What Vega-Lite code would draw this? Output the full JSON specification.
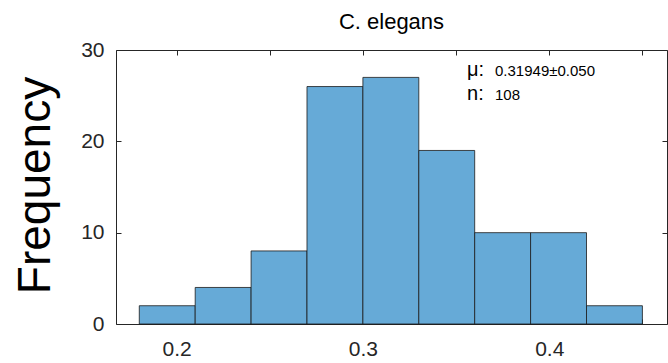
{
  "$schema": "https://vega.github.io/schema/vega-lite/v6.json",
  "width": 551,
  "height": 274,
  "autosize": "none",
  "padding": {"left": 116, "top": 50, "right": 1, "bottom": 39},
  "background": "white",
  "config": {
    "view": {"stroke": "#262626", "strokeWidth": 1},
    "font": "Liberation Sans"
  },
  "title": {
    "text": "C. elegans",
    "fontSize": 22,
    "fontWeight": "normal",
    "color": "#000000",
    "font": "Liberation Sans",
    "offset": 5
  },
  "data": {
    "values": [
      {"start": 0.18, "end": 0.21, "count": 2},
      {"start": 0.21, "end": 0.24, "count": 4},
      {"start": 0.24, "end": 0.27, "count": 8},
      {"start": 0.27, "end": 0.30, "count": 26},
      {"start": 0.30, "end": 0.33, "count": 27},
      {"start": 0.33, "end": 0.36, "count": 19},
      {"start": 0.36, "end": 0.39, "count": 10},
      {"start": 0.39, "end": 0.42, "count": 10},
      {"start": 0.42, "end": 0.45, "count": 2}
    ]
  },
  "layer": [
    {
      "mark": {"type": "bar", "fill": "#66aad7", "stroke": "#1a1a1a", "strokeWidth": 0.8, "opacity": 1},
      "encoding": {
        "x": {
          "field": "start", "type": "quantitative",
          "scale": {"domain": [0.1675, 0.4632], "nice": false, "zero": false},
          "axis": {
            "orient": "bottom", "title": null, "values": [0.2, 0.25, 0.3, 0.35, 0.4, 0.45],
            "labelExpr": "abs(datum.value*10 - round(datum.value*10)) < 0.001 ? format(datum.value, '.1f') : ''",
            "tickSize": -5, "tickColor": "#262626", "domain": false, "grid": false,
            "labelFontSize": 21, "labelColor": "#262626", "labelPadding": 19, "labelFlush": false
          }
        },
        "x2": {"field": "end"},
        "y": {
          "field": "count", "type": "quantitative",
          "scale": {"domain": [0, 30], "nice": false},
          "axis": {
            "orient": "left", "values": [0, 10, 20, 30], "title": "Frequency",
            "tickSize": -5, "tickColor": "#262626", "domain": false, "grid": false,
            "labelFontSize": 21, "labelColor": "#262626", "labelPadding": 17,
            "titleFontSize": 46, "titleFontWeight": "normal", "titleColor": "#000000",
            "titleAngle": -90, "titleX": -81, "titleY": 135, "titleAlign": "center", "titleBaseline": "middle"
          }
        },
        "y2": {"datum": 0}
      }
    },
    {
      "mark": {"type": "bar", "opacity": 0},
      "encoding": {
        "x": {
          "field": "start", "type": "quantitative",
          "axis": {"orient": "top", "title": null, "labels": false, "values": [0.2, 0.25, 0.3, 0.35, 0.4, 0.45], "tickSize": -5, "tickColor": "#262626", "domain": false, "grid": false}
        },
        "x2": {"field": "end"},
        "y": {
          "field": "count", "type": "quantitative",
          "axis": {"orient": "right", "title": null, "labels": false, "values": [0, 10, 20, 30], "tickSize": -5, "tickColor": "#262626", "domain": false, "grid": false}
        },
        "y2": {"datum": 0}
      }
    },
    {
      "data": {"values": [{"label": "μ:"}]},
      "mark": {"type": "text", "align": "left", "baseline": "alphabetic", "fontSize": 20, "color": "#000000"},
      "encoding": {
        "x": {"datum": 0.3559, "type": "quantitative", "axis": null},
        "y": {"datum": 27.15, "type": "quantitative", "axis": null},
        "text": {"field": "label"}
      }
    },
    {
      "data": {"values": [{"label": "0.31949±0.050"}]},
      "mark": {"type": "text", "align": "left", "baseline": "alphabetic", "fontSize": 15, "color": "#000000"},
      "encoding": {
        "x": {"datum": 0.3709, "type": "quantitative", "axis": null},
        "y": {"datum": 27.15, "type": "quantitative", "axis": null},
        "text": {"field": "label"}
      }
    },
    {
      "data": {"values": [{"label": "n:"}]},
      "mark": {"type": "text", "align": "left", "baseline": "alphabetic", "fontSize": 20, "color": "#000000"},
      "encoding": {
        "x": {"datum": 0.3559, "type": "quantitative", "axis": null},
        "y": {"datum": 24.53, "type": "quantitative", "axis": null},
        "text": {"field": "label"}
      }
    },
    {
      "data": {"values": [{"label": "108"}]},
      "mark": {"type": "text", "align": "left", "baseline": "alphabetic", "fontSize": 15, "color": "#000000"},
      "encoding": {
        "x": {"datum": 0.3709, "type": "quantitative", "axis": null},
        "y": {"datum": 24.53, "type": "quantitative", "axis": null},
        "text": {"field": "label"}
      }
    }
  ],
  "resolve": {"axis": {"x": "independent", "y": "independent"}}
}
